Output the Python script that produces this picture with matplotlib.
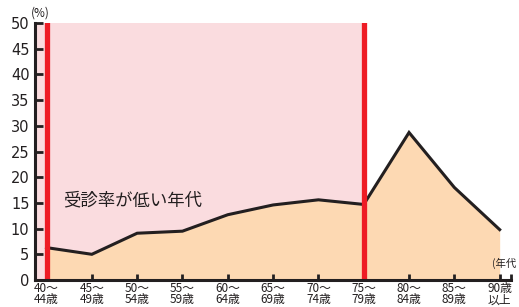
import matplotlib
matplotlib.use('Agg')
import matplotlib.pyplot as plt
import numpy as np

plt.rcParams['font.family'] = ['Noto Sans CJK JP', 'DejaVu Sans']

age_labels = ['40～\n44歳', '45～\n49歳', '50～\n54歳', '55～\n59歳', '60～\n64歳',
              '65～\n69歳', '70～\n74歳', '75～\n79歳', '80～\n84歳', '85～\n89歳', '90歳\n以上']
rate = [6.3, 5.0, 9.1, 9.5, 12.7, 14.6, 15.6, 14.7, 28.7, 18.0, 9.8]
low_start, low_end = 0, 7  # 受診率が低い年代の範囲 (index)

x = np.arange(len(rate))

fig = plt.figure(figsize=(5.19, 3.07), dpi=100)
ax = fig.add_axes([35 / 519, 27 / 307, 476 / 519, 257 / 307])

ax.set_xlim(-0.254, 10.25)
ax.set_ylim(0, 50)

# 低い年代の背景
ax.axvspan(ax.get_xlim()[0], low_end, color='#fadcdf', lw=0, zorder=0)

ax.fill_between(x, rate, 0, color='#fdd9b3', lw=0, zorder=1)
ax.plot(x, rate, color='#231f20', lw=2.2, zorder=2, solid_joinstyle='miter')

for xv in (low_start, low_end):
    ax.axvline(xv, color='#ee1c25', lw=3.8, zorder=3)

ax.text(0.36, 15.5, '受診率が低い年代', fontsize=12.5, color='#231f20',
        va='center', ha='left', zorder=4)

for s in ('top', 'right'):
    ax.spines[s].set_visible(False)
for s in ('left', 'bottom'):
    ax.spines[s].set_linewidth(2.2)
    ax.spines[s].set_color('#231f20')
    ax.spines[s].set_zorder(5)

ax.set_yticks(np.arange(0, 51, 5))
ax.set_yticklabels([str(v) for v in range(0, 51, 5)], family='DejaVu Sans',
                   fontsize=10.5, color='#231f20')
ax.set_xticks(x)
ax.set_xticklabels(age_labels, fontsize=8.5, linespacing=0.82, color='#231f20')
ax.set_xticks([10.25], minor=True)
ax.tick_params(axis='y', direction='in', length=5.5, width=2, pad=4,
               colors='#231f20')
ax.tick_params(axis='x', which='both', direction='in', length=4.5, width=2, pad=1.5,
               colors='#231f20')

fig.text(31 / 519, 1 - 13 / 307, '(%)', fontsize=8.5, va='center', ha='left', color='#231f20')
fig.text(516 / 519, 1 - 263 / 307, '(年代', fontsize=7.5, va='center', ha='right', color='#231f20')

fig.savefig('out.png', dpi=100)
